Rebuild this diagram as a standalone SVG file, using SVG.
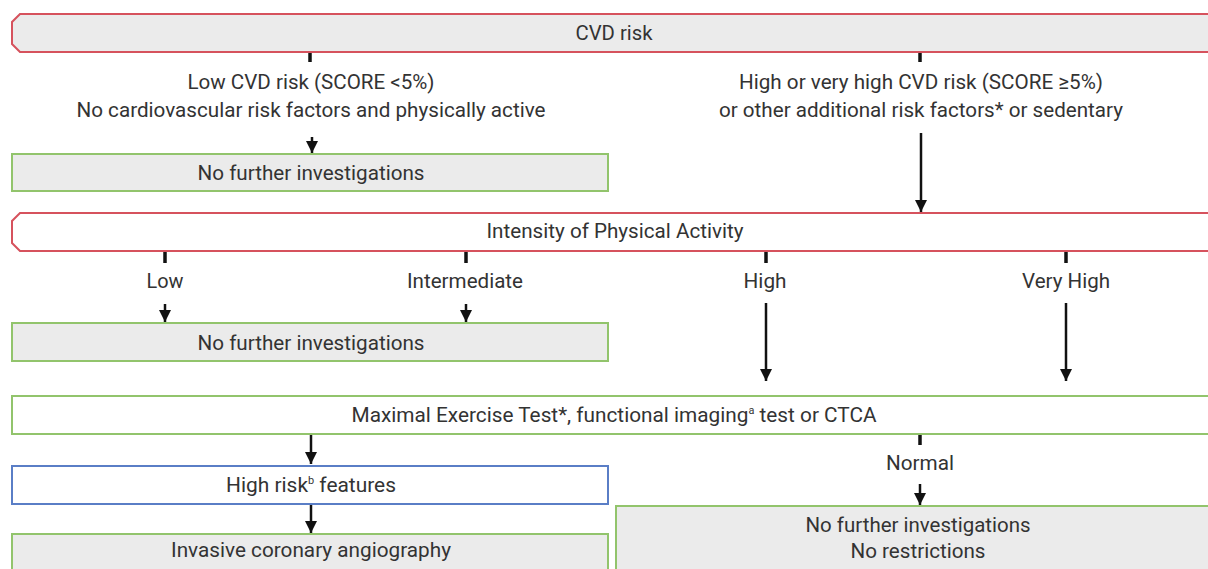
<svg xmlns="http://www.w3.org/2000/svg" width="1208" height="569" viewBox="0 0 1208 569">
<defs>
<marker id="ah" markerUnits="userSpaceOnUse" markerWidth="12" markerHeight="12" viewBox="0 0 12 12" refX="12" refY="6" orient="auto">
<path d="M0,0 L12,6 L0,12 Z" fill="#111"/>
</marker>
<style>
text{font-family:Roboto,"Liberation Sans",sans-serif;font-size:21px;fill:#333;text-anchor:middle}
.sup{font-size:11px;baseline-shift:8px}
.red{stroke:#d6525d;stroke-width:2}
.green{stroke:#92c46c;stroke-width:2}
.blue{stroke:#5a7ec6;stroke-width:2}
.gray{fill:#ebebeb}
.white{fill:#fff}
.tk{stroke:#111;stroke-width:3.5;fill:none}
.arr{stroke:#111;stroke-width:2.5;fill:none;marker-end:url(#ah)}
</style>
</defs>
<rect width="1208" height="569" fill="#fff"/>

<g id="cvd-risk">
<path class="red gray" d="M1215,14 L20,14 L12,22 L12,44 L20,52 L1215,52"/>
<text x="614" y="40" textLength="77" lengthAdjust="spacingAndGlyphs">CVD risk</text>
</g>

<g id="low-risk-label">
<text x="311" y="89" textLength="247" lengthAdjust="spacingAndGlyphs">Low CVD risk (SCORE &lt;5%)</text>
<text x="311" y="117" textLength="469" lengthAdjust="spacingAndGlyphs">No cardiovascular risk factors and physically active</text>
</g>

<g id="high-risk-label">
<text x="921" y="89" textLength="364" lengthAdjust="spacingAndGlyphs">High or very high CVD risk (SCORE ≥5%)</text>
<text x="921" y="117" textLength="404" lengthAdjust="spacingAndGlyphs">or other additional risk factors* or sedentary</text>
</g>

<g id="no-further-1">
<rect class="green gray" x="12" y="154" width="596" height="37"/>
<text x="311" y="180" textLength="227" lengthAdjust="spacingAndGlyphs">No further investigations</text>
</g>

<g id="intensity">
<path class="red white" d="M1215,213 L20,213 L12,221 L12,243 L20,251 L1215,251"/>
<text x="615" y="238" textLength="257" lengthAdjust="spacingAndGlyphs">Intensity of Physical Activity</text>
</g>

<g id="lbl-low"><text x="165" y="288" textLength="37" lengthAdjust="spacingAndGlyphs">Low</text></g>
<g id="lbl-intermediate"><text x="465" y="288" textLength="116" lengthAdjust="spacingAndGlyphs">Intermediate</text></g>
<g id="lbl-high"><text x="765" y="288" textLength="43" lengthAdjust="spacingAndGlyphs">High</text></g>
<g id="lbl-very-high"><text x="1066" y="288" textLength="88" lengthAdjust="spacingAndGlyphs">Very High</text></g>

<g id="no-further-2">
<rect class="green gray" x="12" y="323" width="596" height="38"/>
<text x="311" y="350" textLength="227" lengthAdjust="spacingAndGlyphs">No further investigations</text>
</g>

<g id="max-test">
<rect class="green white" x="12" y="396" width="1205" height="38"/>
<text x="614" y="422" textLength="525" lengthAdjust="spacingAndGlyphs">Maximal Exercise Test*, functional imaging<tspan class="sup">a</tspan> test or CTCA</text>
</g>

<g id="high-risk-features">
<rect class="blue white" x="12" y="466" width="596" height="38"/>
<text x="311" y="492" textLength="170" lengthAdjust="spacingAndGlyphs">High risk<tspan class="sup">b</tspan> features</text>
</g>

<g id="lbl-normal"><text x="920" y="470" textLength="68" lengthAdjust="spacingAndGlyphs">Normal</text></g>

<g id="invasive">
<rect class="green gray" x="12" y="534" width="596" height="45"/>
<text x="311" y="557" textLength="280" lengthAdjust="spacingAndGlyphs">Invasive coronary angiography</text>
</g>

<g id="no-further-3">
<rect class="green gray" x="616" y="506" width="601" height="73"/>
<text x="918" y="532" textLength="225" lengthAdjust="spacingAndGlyphs">No further investigations</text>
<text x="918" y="558" textLength="135" lengthAdjust="spacingAndGlyphs">No restrictions</text>
</g>

<g id="connectors">
<line class="tk" x1="310" y1="53" x2="310" y2="62"/>
<line class="tk" x1="920" y1="53" x2="920" y2="62"/>
<line class="arr" x1="312" y1="137" x2="312" y2="153"/>
<line class="arr" x1="921" y1="133" x2="921" y2="212"/>
<line class="tk" x1="165" y1="252" x2="165" y2="263"/>
<line class="tk" x1="466" y1="252" x2="466" y2="263"/>
<line class="tk" x1="766" y1="252" x2="766" y2="263"/>
<line class="tk" x1="1066" y1="252" x2="1066" y2="263"/>
<line class="arr" x1="165" y1="304" x2="165" y2="322"/>
<line class="arr" x1="466" y1="304" x2="466" y2="322"/>
<line class="arr" x1="766" y1="303" x2="766" y2="381"/>
<line class="arr" x1="1066" y1="303" x2="1066" y2="381"/>
<line class="arr" x1="311" y1="435" x2="311" y2="464"/>
<line class="arr" x1="311" y1="505" x2="311" y2="533"/>
<line class="tk" x1="920" y1="435" x2="920" y2="445"/>
<line class="arr" x1="920" y1="484" x2="920" y2="505"/>
</g>
</svg>
